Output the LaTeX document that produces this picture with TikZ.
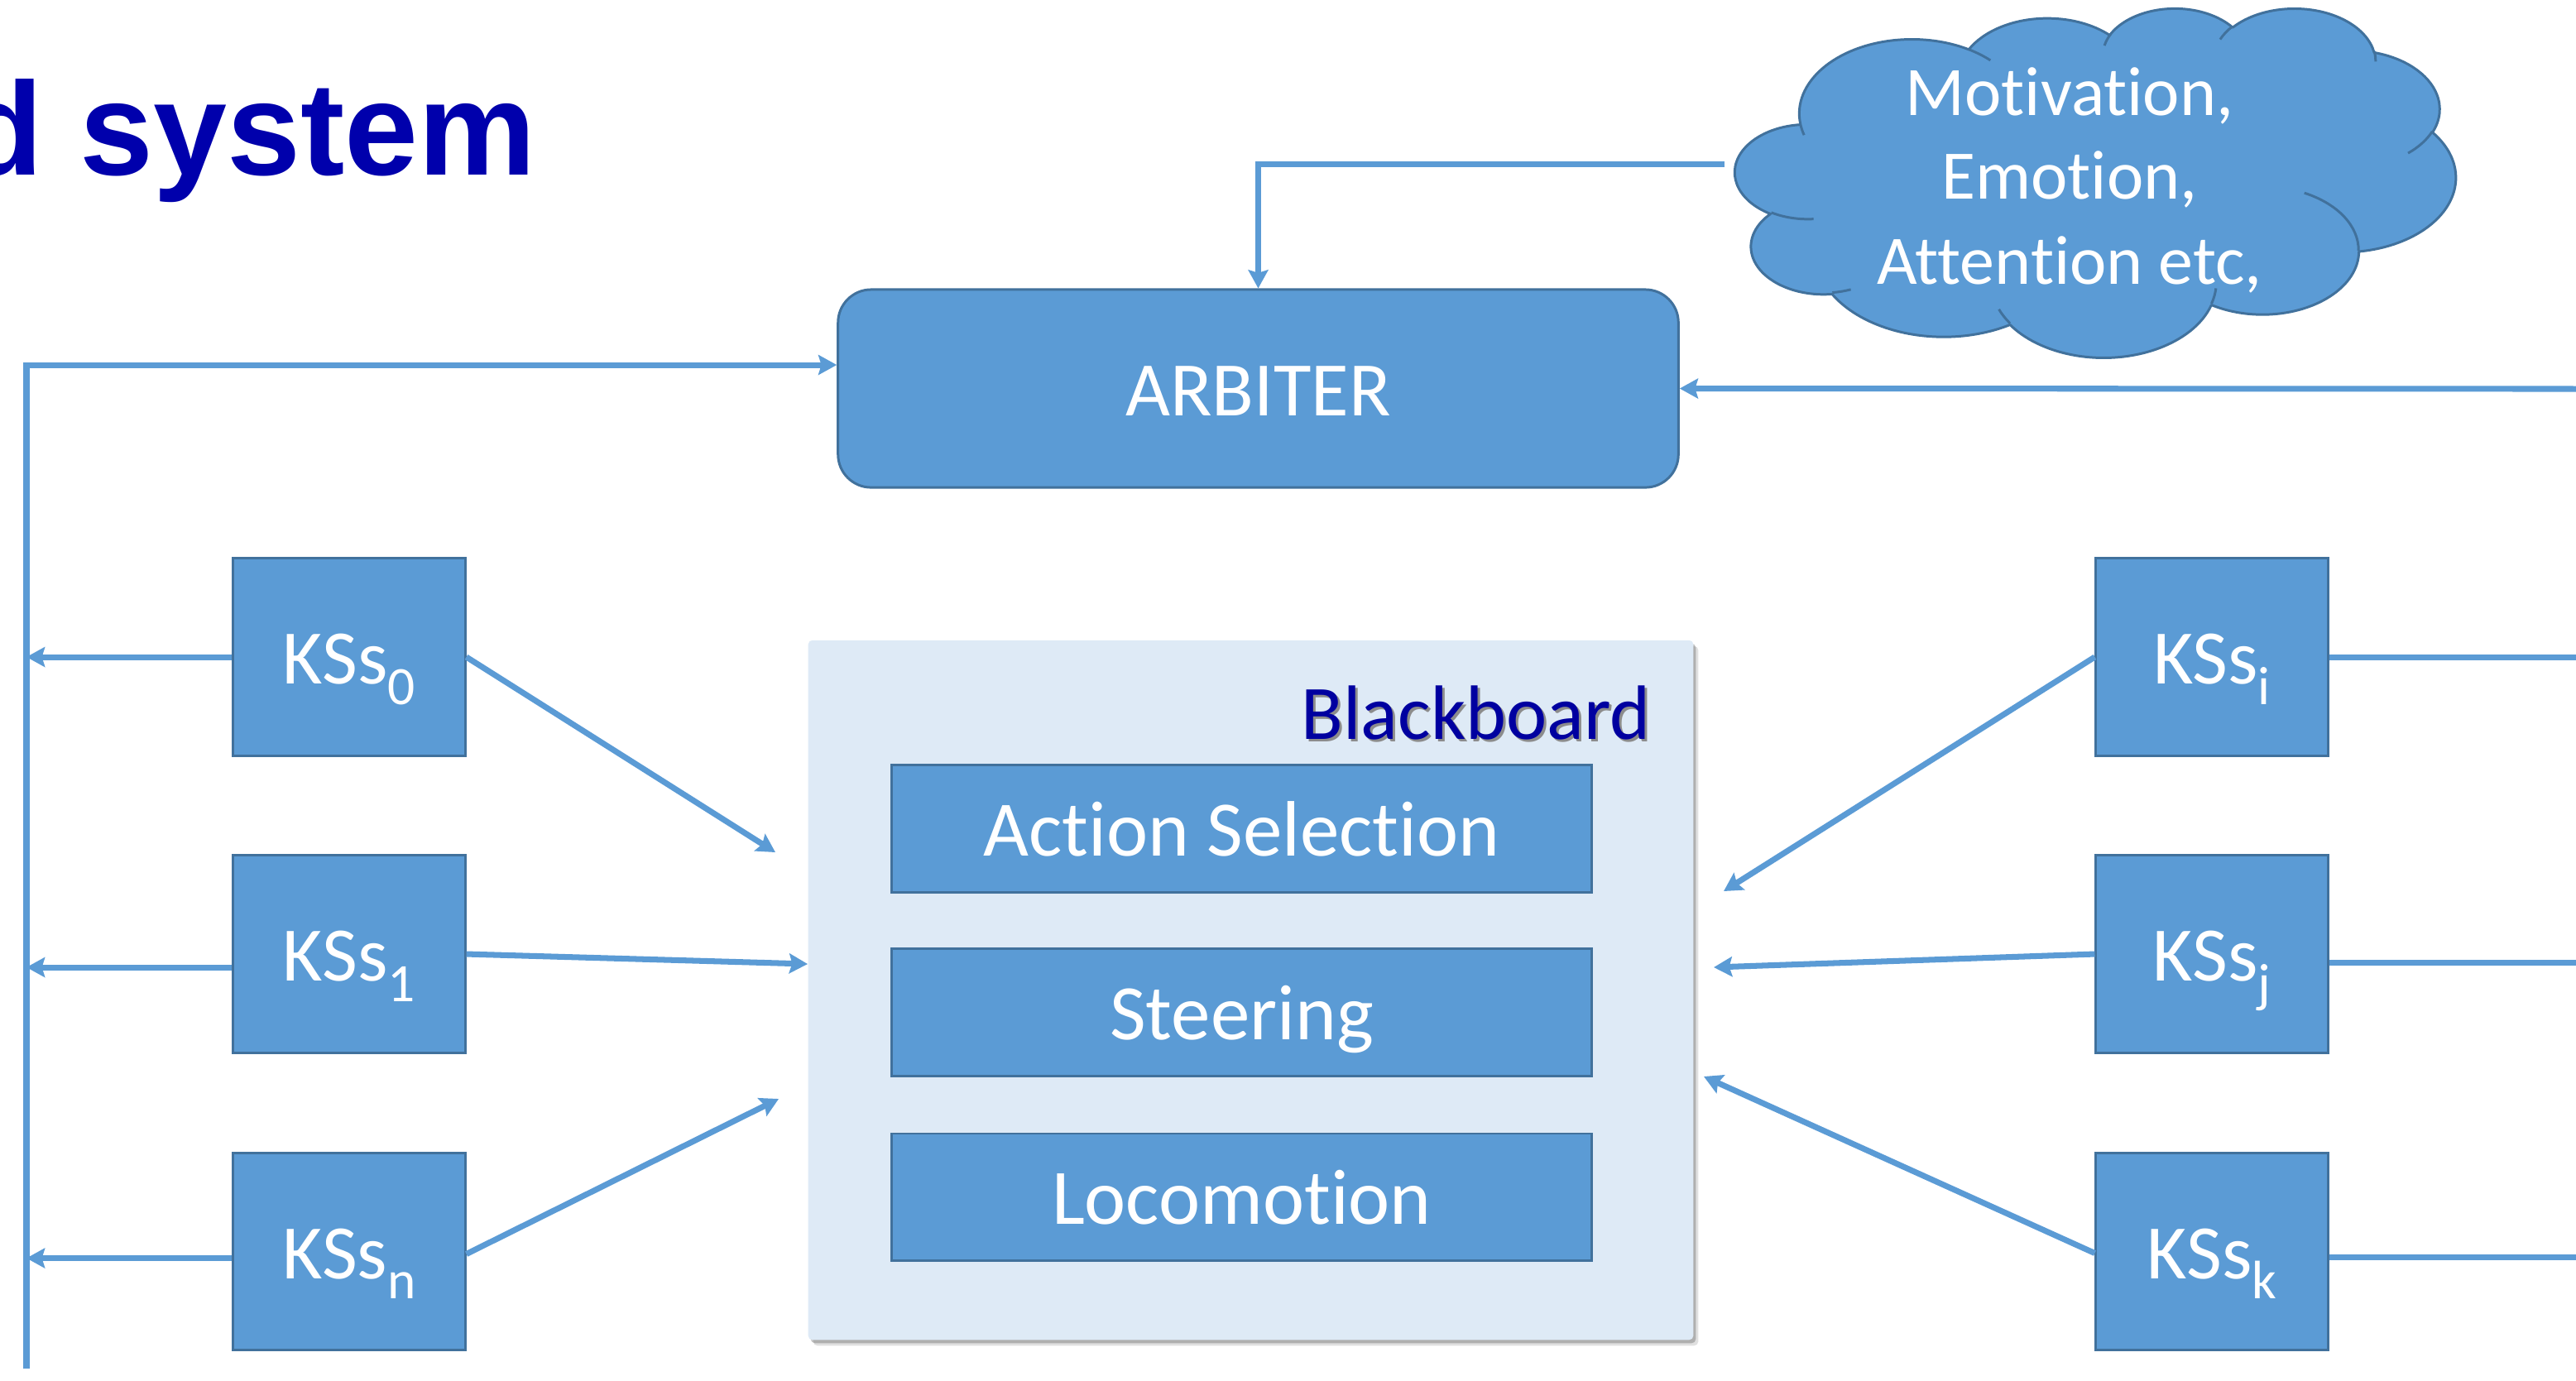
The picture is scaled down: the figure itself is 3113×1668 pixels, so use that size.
\documentclass[tikz,border=0pt]{standalone}
\usepackage{fontspec}
\setmainfont{Carlito}[Ligatures={NoCommon}]
\newfontfamily\headfont{Liberation Sans}
\usetikzlibrary{arrows.meta,shadows}

\definecolor{boxblue}{RGB}{91,155,213}
\definecolor{edgeblue}{RGB}{65,113,156}
\definecolor{boardbg}{RGB}{222,234,246}
\definecolor{titlenavy}{RGB}{0,0,172}
\definecolor{boardnavy}{RGB}{0,0,160}

% lowered, smaller index after "KSs"
\newcommand\kssub[1]{\raisebox{-0.26em}{\fontsize{18.6pt}{18.6pt}\selectfont #1}}

% parameter angle of the point of an ellipse (radii #1,#2) that lies in direction #3
\makeatletter
\pgfmathdeclarefunction{ooang}{3}{%
  \begingroup
  \pgfmathparse{atan2(#1*sin(#3),#2*cos(#3))-#3}%
  \let\oodiff\pgfmathresult
  \pgfmathparse{#3+\oodiff-360*round(\oodiff/360)}%
  \pgfmath@smuggleone\pgfmathresult
  \endgroup}
\makeatother

\begin{document}
\begin{tikzpicture}[x=0.01cm,y=-0.01cm,
  box/.style={draw=edgeblue, fill=boxblue, line width=0.85pt, text=white,
    font=\fontsize{26.5pt}{30pt}\selectfont, text height=26pt, text depth=7.3pt, inner sep=0pt},
  ks/.style={box, minimum width=2.8cm, minimum height=2.38cm},
  layer/.style={box, minimum width=8.45cm, minimum height=1.53cm, font=\fontsize{27pt}{30pt}\selectfont},
  flow/.style={draw=boxblue, line width=2pt, -{Stealth[length=6.3pt,width=6.8pt,inset=1pt]}},
  link/.style={draw=boxblue, line width=2pt},
  cloudtext/.style={anchor=base, inner sep=0pt, text=white, font=\fontsize{23.9pt}{29pt}\selectfont},
  % elliptic arc: radii, start direction, sweep (degrees)
  puff/.style n args={4}{insert path={arc[x radius=#1, y radius=#2,
      start angle={ooang(#1,#2,#3)}, end angle={ooang(#1,#2,#3+#4)}]}}]
\useasboundingbox (0,0) rectangle (3113,1668);

% heading
\node[anchor=base west, inner sep=0pt, text=titlenavy,
      font=\headfont\bfseries\fontsize{45.5pt}{50pt}\selectfont] (title) at (-46,211) {d system};

% arbiter
\node[box, rounded corners=0.4cm, minimum width=10.15cm, minimum height=2.39cm] (arb) at (1520.5,469.5) {ARBITER};

% cloud of internal states, drawn in a 4320 x 4320 frame
\begin{scope}[shift={(2097,9)}, x=0.0020185cm, y=-0.00098148cm]
  \draw[fill=boxblue, draw=edgeblue, line width=0.85pt, line join=round]
    (390,1437)
    [puff={675.3}{919.0}{-190.48748}{123.78053}]
    [puff={533.3}{726.7}{-144.10238}{89.94523}]
    [puff={436.5}{594.5}{-145.80792}{99.72302}]
    [puff={485.7}{659.5}{-130.98607}{117.24173}]
    [puff={533.3}{727.3}{-78.70888}{109.02692}]
    [puff={677.5}{922.0}{-46.26725}{130.269}]
    [puff={578.5}{786.7}{0.62502}{114.03333}]
    [puff={675.2}{921.5}{22.4516}{115.17255}]
    [puff={772.0}{1054.3}{66.24263}{75.71102}]
    [puff={436.0}{591.8}{-274.94208}{146.73557}]
    [puff={434.5}{594.5}{-246.8285}{152.51885}]
    -- cycle;
  \draw[draw=edgeblue, line width=0.85pt]
    (469.3,2617.7) [puff={434.5}{594.5}{86.742}{26.4295}]
    (692.8,3489.9) [puff={436.0}{591.8}{73.61047}{11.44747}]
    (1647.8,3909.0) [puff={675.2}{921.5}{137.62415}{14.0811}]
    (2882.7,3475.1) [puff={675.2}{921.5}{6.45327}{15.99835}]
    (3412.9,2295.4) [puff={578.5}{786.7}{-70.29235}{70.91737}]
    (4179.8,1535.4) [puff={533.3}{727.3}{30.31803}{27.7515}]
    (3832.4,542.6) [puff={485.7}{659.5}{-13.74433}{14.8589}]
    (2907.8,395.2) [puff={485.7}{659.5}{-149.18145}{18.19537}]
    (2214.1,472.0) [puff={436.5}{594.5}{-163.49427}{17.68635}]
    (1400.0,519.2) [puff={675.3}{919.0}{-66.70695}{12.31935}]
    (412.7,1578.9) [puff={675.3}{919.0}{157.65435}{11.85817}];
\end{scope}
\node[cloudtext] (cm1) at (2501,139) {Motivation,};
\node[cloudtext] (cm2) at (2501,240) {Emotion,};
\node[cloudtext] (cm3) at (2501,343) {Attention etc,};

% blackboard with its layers
\node[fill=boardbg, rounded corners=0.05cm, minimum width=10.69cm, minimum height=8.45cm, inner sep=0pt,
      drop shadow={shadow xshift=0.06cm, shadow yshift=-0.07cm, fill=black, opacity=0.12},
      drop shadow={shadow xshift=0.03cm, shadow yshift=-0.04cm, fill=black, opacity=0.22}] (bb) at (1511.5,1196.5) {};
\node[anchor=base east, inner sep=0pt, text=black!45, font=\fontsize{26.5pt}{30pt}\selectfont] (bbshade) at (1998,896) {Blackboard};
\node[anchor=base east, inner sep=0pt, text=boardnavy, font=\fontsize{26.5pt}{30pt}\selectfont] (bbtitle) at (1995,893) {Blackboard};
\node[layer] (act) at (1500.5,1001.5) {Action Selection};
\node[layer] (steer) at (1500.5,1223.5) {Steering};
\node[layer] (loco) at (1500.5,1446.5) {Locomotion};

% knowledge sources
\node[ks] (ks0) at (422,794) {KSs\kssub{0}};
\node[ks] (ks1) at (422,1153) {KSs\kssub{1}};
\node[ks] (ksn) at (422,1512.5) {KSs\kssub{n}};
\node[ks] (ksi) at (2673,794) {KSs\kssub{i}};
\node[ks] (ksj) at (2673,1153) {KSs\kssub{j}};
\node[ks] (ksk) at (2673,1512.5) {KSs\kssub{k}};

% free ends of the connectors
\coordinate (cl) at (2084,198);
\coordinate (busTop) at (32,441);
\coordinate (busBot) at (32,1654);
\coordinate (rin) at (3130,470);
\coordinate (t0) at (937,1030);
\coordinate (t1) at (976,1165);
\coordinate (tn) at (941,1328);
\coordinate (ti) at (2083,1077);
\coordinate (tj) at (2071,1169);
\coordinate (tk) at (2059,1301);

% inputs to the arbiter
\draw[flow] (cl) -| (arb.north);
\draw[flow] (busBot) -- (busTop) -- (arb.west |- busTop);
\draw[flow] (rin) -- (arb.east);

% sources report to the left bus
\draw[flow] (ks0.west) -- (ks0.west -| busTop);
\draw[flow] ([yshift=-0.16cm]ks1.west) -- ([yshift=-0.16cm]ks1.west -| busTop);
\draw[flow] ([yshift=-0.08cm]ksn.west) -- ([yshift=-0.08cm]ksn.west -| busTop);

% sources report to the right
\draw[link] (ksi.east) -- ++(500,0);
\draw[link] ([yshift=-0.1cm]ksj.east) -- ++(500,0);
\draw[link] ([yshift=-0.065cm]ksk.east) -- ++(500,0);

% sources write to the blackboard
\draw[flow] (ks0.east) -- (t0);
\draw[flow] (ks1.east) -- (t1);
\draw[flow] ([yshift=-0.03cm]ksn.east) -- (tn);
\draw[flow] (ksi.west) -- (ti);
\draw[flow] (ksj.west) -- (tj);
\draw[flow] ([yshift=-0.02cm]ksk.west) -- (tk);
\end{tikzpicture}
\end{document}
